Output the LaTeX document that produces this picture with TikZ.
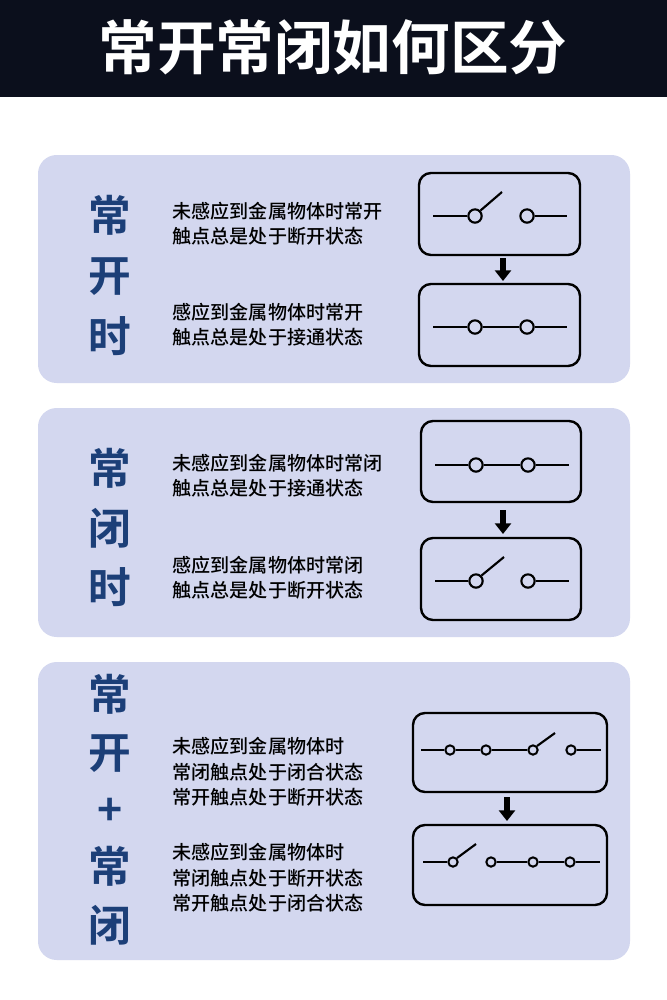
\documentclass[tikz,border=0pt]{standalone}
\usepackage{fontspec}
\newfontfamily\cjk{Noto Sans CJK SC Medium}
\newfontfamily\cjkb{Noto Sans CJK SC Bold}
\usetikzlibrary{arrows.meta}
\definecolor{hdr}{HTML}{0B0F1C}
\definecolor{pbg}{HTML}{D3D7EF}
\definecolor{tblue}{HTML}{1C3F78}
\tikzset{
 panel/.style={fill=pbg,draw=none,rounded corners=14pt},
 sbox/.style={draw=black,line width=1.8pt,rounded corners=9pt},
 big/.style={text=tblue,font=\cjkb\fontsize{32}{32}\selectfont},
 desc/.style={anchor=west,font=\cjk\fontsize{14.3}{18.5}\selectfont,align=left},
 wire/.style={line width=1.6pt},
 pin/.style={circle,draw=black,fill=pbg,line width=1.6pt,minimum size=10pt,inner sep=0pt},
 spin/.style={circle,draw=black,fill=pbg,line width=1.5pt,minimum size=7pt,inner sep=0pt},
 darr/.style={-{Triangle[length=8pt,width=12pt]},line width=4.5pt},
}
\begin{document}
\begin{tikzpicture}[x=0.75pt,y=-0.75pt]
\useasboundingbox (0,0) rectangle (667,1000);
\fill[white] (0,0) rectangle (667,1000);
\fill[hdr] (0,0) rectangle (667,97);
\node[text=white,font=\cjkb\fontsize{44}{44}\selectfont] (title) at (333,47) {常开常闭如何区分};
% panels
\fill[panel] (38,155) rectangle (630,383);
\fill[panel] (38,408) rectangle (630,637);
\fill[panel] (38,662) rectangle (630,960);
% panel 1
\node[big] (a1) at (110,215) {常};
\node[big] (a2) at (110,277) {开};
\node[big] (a3) at (110,336) {时};
\node[desc] (t1) at (168,224) {未感应到金属物体时常开\\触点总是处于断开状态};
\node[desc] (t2) at (168,325) {感应到金属物体时常开\\触点总是处于接通状态};
\draw[sbox] (419,173) rectangle (580,255);
\draw[sbox] (419,284) rectangle (580,366);
\coordinate (b1) at (503,258); \coordinate (b2) at (503,281);
\draw[darr] (b1) -- (b2);
\node[pin] (p1a) at (475,216) {}; \node[pin] (p1b) at (527,216) {};
\coordinate (l1) at (433,216); \coordinate (r1) at (567,216); \coordinate (k1) at (502,192);
\draw[wire] (l1) -- (p1a); \draw[wire] (p1b) -- (r1); \draw[wire] (p1a.north east) -- (k1);
\node[pin] (p2a) at (475,327) {}; \node[pin] (p2b) at (527,327) {};
\coordinate (l2) at (433,327); \coordinate (r2) at (567,327);
\draw[wire] (l2) -- (p2a) -- (p2b) -- (r2);
% panel 2
\node[big] (c1) at (110,468) {常};
\node[big] (c2) at (110,528) {闭};
\node[big] (c3) at (110,587) {时};
\node[desc] (t3) at (168,476) {未感应到金属物体时常闭\\触点总是处于接通状态};
\node[desc] (t4) at (168,578) {感应到金属物体时常闭\\触点总是处于断开状态};
\draw[sbox] (421,421) rectangle (581,502);
\draw[sbox] (421,538) rectangle (581,620);
\coordinate (b3) at (503,510); \coordinate (b4) at (503,534);
\draw[darr] (b3) -- (b4);
\node[pin] (p3a) at (476,465) {}; \node[pin] (p3b) at (528,465) {};
\coordinate (l3) at (435,465); \coordinate (r3) at (569,465);
\draw[wire] (l3) -- (p3a) -- (p3b) -- (r3);
\node[pin] (p4a) at (476,581) {}; \node[pin] (p4b) at (528,581) {};
\coordinate (l4) at (435,581); \coordinate (r4) at (569,581); \coordinate (k4) at (504,557);
\draw[wire] (l4) -- (p4a); \draw[wire] (p4b) -- (r4); \draw[wire] (p4a.north east) -- (k4);
% panel 3
\node[big] (e1) at (110,694) {常};
\node[big] (e2) at (110,754) {开};
\node[big] (e3) at (110,812) {+};
\node[big] (e4) at (110,866) {常};
\node[big] (e5) at (110,925) {闭};
\node[desc,font=\cjk\fontsize{14.3}{19}\selectfont] (t5) at (168,772) {未感应到金属物体时\\常闭触点处于闭合状态\\常开触点处于断开状态};
\node[desc,font=\cjk\fontsize{14.3}{19}\selectfont] (t6) at (168,878) {未感应到金属物体时\\常闭触点处于断开状态\\常开触点处于闭合状态};
\draw[sbox] (413,713) rectangle (607,792);
\draw[sbox] (413,825) rectangle (607,905);
\coordinate (b5) at (507,797); \coordinate (b6) at (507,821);
\draw[darr] (b5) -- (b6);
\node[spin] (q1) at (450,750) {}; \node[spin] (q2) at (486,750) {};
\node[spin] (q3) at (533,750) {}; \node[spin] (q4) at (571,750) {};
\coordinate (l5) at (421,750); \coordinate (r5) at (601,750); \coordinate (k5) at (555,733);
\draw[wire] (l5) -- (q1) -- (q2) -- (q3); \draw[wire] (q4) -- (r5); \draw[wire] (q3.north east) -- (k5);
\node[spin] (s1) at (453,862) {}; \node[spin] (s2) at (491,862) {};
\node[spin] (s3) at (533,862) {}; \node[spin] (s4) at (570,862) {};
\coordinate (l6) at (423,862); \coordinate (r6) at (600,862); \coordinate (k6) at (476,844);
\draw[wire] (l6) -- (s1); \draw[wire] (s1.north east) -- (k6); \draw[wire] (s2) -- (s3) -- (s4) -- (r6);
\end{tikzpicture}
\end{document}
